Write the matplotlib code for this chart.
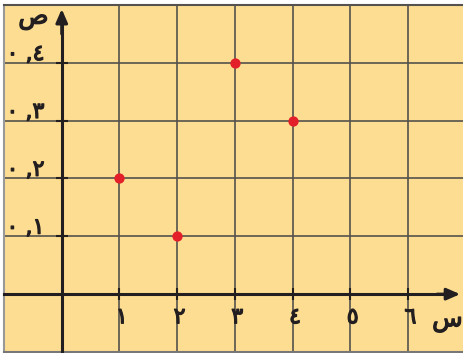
import matplotlib
matplotlib.use("Agg")
import matplotlib.pyplot as plt
import matplotlib.patheffects as pe

# points (س , ص)
xs = [1, 2, 3, 4]
ys = [0.2, 0.1, 0.4, 0.3]

x_ticks = [1, 2, 3, 4, 5, 6]
x_labels = ["١", "٢", "٣", "٤", "٥", "٦"]
y_ticks = [0.1, 0.2, 0.3, 0.4]
y_labels = ["٠ ,١", "٠ ,٢", "٠ ,٣", "٠ ,٤"]

BG = "#fddd92"
GRID = "#55524d"
AXC = "#231f20"

fig = plt.figure(figsize=(4.63, 3.53), dpi=100)
ax = fig.add_axes([4 / 463, 1 / 353, 459 / 463, 347 / 353])
ax.set_facecolor(BG)
ax.set_xlim(-1, 6.95)
ax.set_ylim(-0.1, 0.5)

# grid
for v in [-1] + x_ticks:
    ax.axvline(v, color=GRID, lw=1.2, zorder=1)
for v in y_ticks + [0.5]:
    ax.axhline(v, color=GRID, lw=1.2, zorder=1)

# frame
ax.spines["top"].set_color(GRID)
ax.spines["top"].set_linewidth(1.5)
ax.spines["right"].set_visible(False)
ax.plot([0, 0], [0, 1], transform=ax.transAxes, color="#999999", lw=1.5,
        clip_on=False, zorder=2)
ax.plot([0, 1], [0, 0], transform=ax.transAxes, color="#777777", lw=1.5,
        clip_on=False, zorder=2)

# axes through the origin
ax.spines["left"].set_position(("data", 0))
ax.spines["bottom"].set_position(("data", 0))
for s in ("left", "bottom"):
    ax.spines[s].set_color(AXC)
    ax.spines[s].set_linewidth(2.2)
    ax.spines[s].set_zorder(3)
ax.spines["bottom"].set_bounds(-1, 6.7)
ax.spines["left"].set_bounds(-0.1, 0.47)
ax.set_xticks(x_ticks)
ax.set_yticks(y_ticks)
ax.tick_params(direction="inout", length=9, width=1.5, color=AXC,
               labelbottom=False, labelleft=False)

arrow = dict(arrowstyle="-|>,head_length=0.8,head_width=0.35", lw=2.2,
             color=AXC, shrinkA=0, shrinkB=0)
ax.annotate("", xy=(6.9, 0), xytext=(6.5, 0), arrowprops=arrow, zorder=4)
ax.annotate("", xy=(0, 0.493), xytext=(0, 0.45), arrowprops=arrow, zorder=4)

# tick labels
heavy = [pe.withStroke(linewidth=0.9, foreground=AXC)]
for v, lab in zip(x_ticks, x_labels):
    ax.text(v + 0.04, -0.04, lab, ha="center", va="center", fontsize=16,
            color=AXC, path_effects=heavy)
for v, lab in zip(y_ticks, y_labels):
    ax.text(-0.3, v + 0.015, lab, ha="right", va="center", fontsize=16,
            color=AXC, path_effects=heavy)
ax.text(-0.49, 0.478, "ص", ha="center", va="center", fontsize=18,
        color=AXC, path_effects=heavy)
ax.text(6.68, -0.045, "س", ha="center", va="center", fontsize=18,
        color=AXC, path_effects=heavy)

ax.scatter(xs, ys, s=55, color="#e3202a", zorder=5, linewidths=0)

fig.savefig("out.png", dpi=100, facecolor="white")
